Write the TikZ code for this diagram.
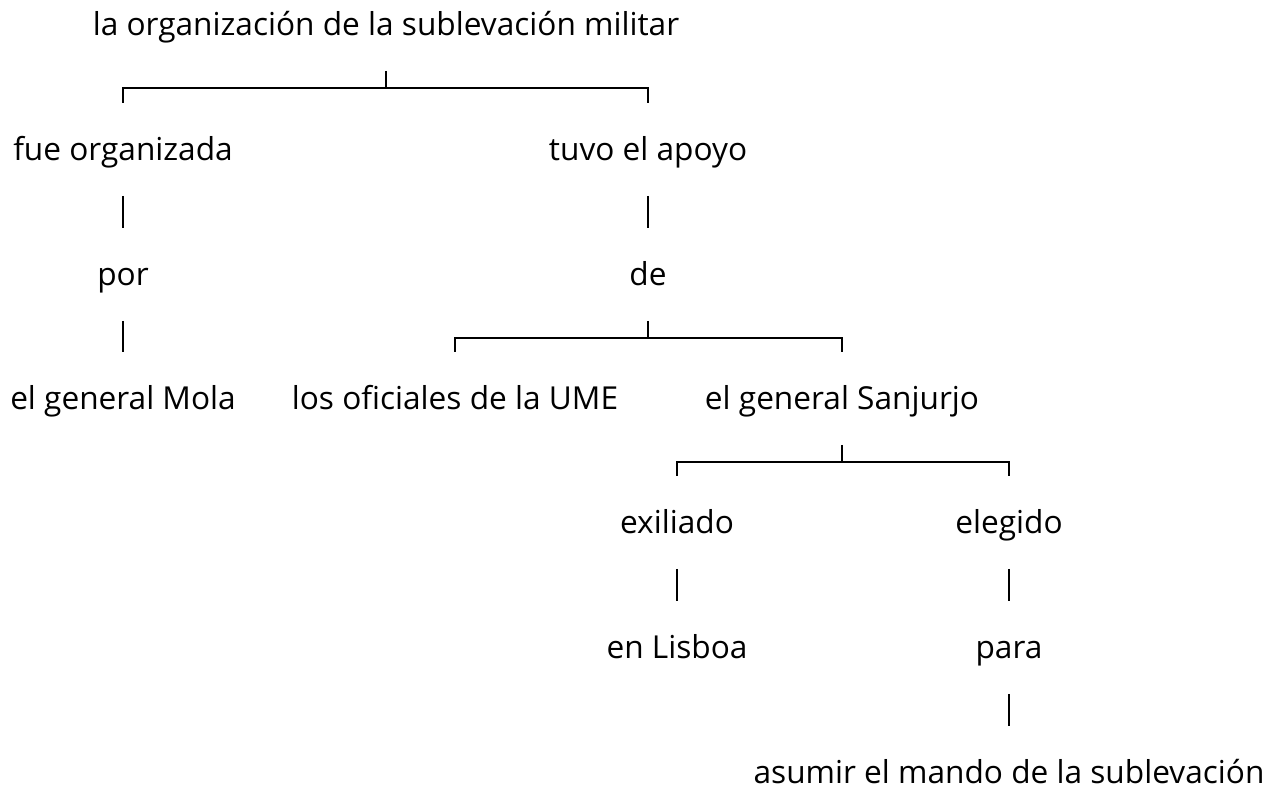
\documentclass[tikz,border=0pt]{standalone}
\usepackage{fontspec}
\setsansfont{Open Sans}
\begin{document}
\begin{tikzpicture}[
		x=0.02cm, y=-0.02cm,
		font=\sffamily,
		every node/.style={
				font=\sffamily\fontsize{18}{20}\selectfont,
			},
		line width=0.9pt,
		tn/.style={anchor=base, inner sep=0pt, text height=1.14cm, text depth=0.68cm},]
	\useasboundingbox (0,0) rectangle (1269,790);
	\node[tn] (root) at (386,36) {la organización de la sublevación militar};
	\node[tn] (fue) at (123,161) {fue organizada};
	\node[tn] (tuvo) at (648,161) {tuvo el apoyo};
	\node[tn] (por) at (123,286) {por};
	\node[tn] (de) at (648,286) {de};
	\node[tn] (mola) at (123,410) {el general Mola};
	\node[tn] (ume) at (455,410) {los oficiales de la UME};
	\node[tn] (sanjurjo) at (842,410) {el general Sanjurjo};
	\node[tn] (exiliado) at (677,534) {exiliado};
	\node[tn] (elegido) at (1009,534) {elegido};
	\node[tn] (lisboa) at (677,659) {en Lisboa};
	\node[tn] (para) at (1009,659) {para};
	\node[tn] (asumir) at (1009,784) {asumir el mando de la sublevación};
	% straight links
	\foreach \a/\b in {fue/por,por/mola,tuvo/de,exiliado/lisboa,elegido/para,para/asumir} {
			\draw (\a) -- (\b);
		}
	% brackets
	\foreach \p/\l/\r in {root/fue/tuvo,de/ume/sanjurjo,sanjurjo/exiliado/elegido} {
			\draw (\p.south) -- ++(0,17) coordinate (\p-j);
			\draw (\p-j) -| (\l.north);
			\draw (\p-j) -| (\r.north);
		}
\end{tikzpicture}
\end{document}
